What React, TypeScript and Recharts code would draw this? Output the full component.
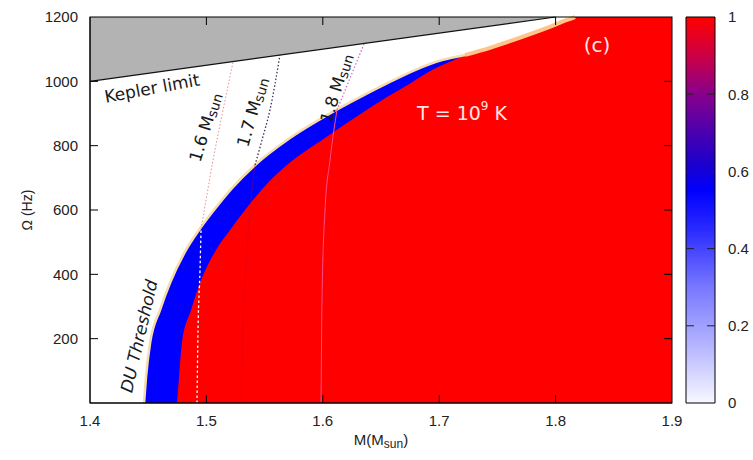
import React from 'react';
import { ComposedChart, Area, Line, XAxis, YAxis, ReferenceDot, ReferenceArea } from 'recharts';

// ---- axes ----
const massTicks = [1.4, 1.5, 1.6, 1.7, 1.8, 1.9];
const omegaTicks = [200, 400, 600, 800, 1000, 1200];
const colorTicks = [0, 0.2, 0.4, 0.6, 0.8, 1];
const massDomain = [1.4, 1.9];
const omegaDomain = [0, 1200];

// ---- Kepler limit ----
const keplerM = [1.4, 1.8];
const keplerOmega = [1000, 1200];

// ---- DU threshold (left edge of blue band) ----
const duM = [1.4464, 1.4481, 1.4516, 1.4601, 1.4687, 1.4825, 1.4936, 1.5065, 1.522, 1.5418, 1.5718, 1.6036, 1.632, 1.656, 1.6792, 1.7024, 1.7222];
const duOmega = [0, 81, 187, 289, 373, 476, 538, 600, 668, 740, 824, 895, 951, 995, 1035, 1066, 1082];

// ---- left edge of red region ----
const redM = [1.4747, 1.4765, 1.479, 1.4868, 1.4945, 1.5083, 1.5203, 1.5332, 1.5486, 1.5692, 1.6019, 1.6311, 1.6552, 1.6758, 1.6938, 1.7127, 1.7222];
const redOmega = [0, 81, 187, 289, 373, 476, 538, 600, 668, 740, 824, 895, 951, 995, 1035, 1066, 1082];

// ---- shared upper edge (blue band closed) ----
const edgeM = [1.7436, 1.7634, 1.7926, 1.8098, 1.8167, 1.9];
const edgeOmega = [1104, 1128, 1166, 1191, 1200, 1200];

// ---- constant-mass sequences ----
const m16UpperM = [1.4954, 1.4997, 1.5057, 1.5134, 1.5229];
const m16UpperOmega = [541, 631, 755, 895, 1060];
const m16LowerM = [1.4919, 1.4928, 1.4945, 1.4954];
const m16LowerOmega = [0, 227, 413, 541];

const m17UpperM = [1.5418, 1.5478, 1.5546, 1.5632];
const m17UpperOmega = [740, 818, 911, 1082];
const m17LowerM = [1.5297, 1.5314, 1.5349, 1.5383, 1.5418];
const m17LowerOmega = [0, 227, 476, 631, 740];

const m18UpperM = [1.6122, 1.6234, 1.6354];
const m18UpperOmega = [911, 1010, 1116];
const m18LowerM = [1.5985, 1.5993, 1.6019, 1.6062, 1.6122];
const m18LowerOmega = [0, 320, 600, 755, 911];

// ---- layout ----
const W = 753;
const H = 460;
const PLOT = { left: 90, top: 17, right: 672, bottom: 403 };
const CBAR = { left: 686, right: 715 };
const TICK_PX = 8;

const pts = (ms: number[], ws: number[]) => ms.map((m, i) => ({ m, w: ws[i] }));

const blueData = pts([...duM, ...edgeM], [...duOmega, ...edgeOmega]);
const redData = pts([...redM, ...edgeM], [...redOmega, ...edgeOmega]);
const duEdgeData = pts(duM, duOmega);
const topFringeData = pts([duM[duM.length - 1], ...edgeM.slice(0, 5)], [duOmega[duOmega.length - 1], ...edgeOmega.slice(0, 5)]);
const keplerData = pts(keplerM, keplerOmega);
const grayData = keplerM.map((m, i) => ({ m, band: [keplerOmega[i], omegaDomain[1]] }));
const m16Upper = pts(m16UpperM, m16UpperOmega);
const m16Lower = pts(m16LowerM, m16LowerOmega);
const m17Upper = pts(m17UpperM, m17UpperOmega);
const m17Lower = pts(m17LowerM, m17LowerOmega);
const m18Upper = pts(m18UpperM, m18UpperOmega);
const m18Lower = pts(m18LowerM, m18LowerOmega);

const [m0, m1] = massDomain;
const [w0, w1] = omegaDomain;
const innerMass = massTicks.slice(1, -1);
const innerOmega = omegaTicks.slice(0, -1);
const innerColor = colorTicks.slice(1, -1);

// frame + inward (mirror) ticks, anchored at the plot's origin point given by the chart
const FrameTicks = (props: any) => {
  const vb = props.viewBox || {};
  const ox = (vb.x || 0) + (vb.width || 0) / 2;
  const oy = (vb.y || 0) + (vb.height || 0) / 2;
  const pw = PLOT.right - PLOT.left;
  const ph = PLOT.bottom - PLOT.top;
  const X = (m: number) => ox + ((m - m0) / (m1 - m0)) * pw;
  const Y = (w: number) => oy - ((w - w0) / (w1 - w0)) * ph;
  const cbL = ox + (CBAR.left - PLOT.left);
  const cbR = ox + (CBAR.right - PLOT.left);
  const C = (c: number) => oy - c * ph;
  return (
    <g>
      <rect x={ox} y={oy - ph} width={pw} height={ph} fill="none" stroke="#000" strokeWidth={1} />
      {innerMass.map((m) => (
        <g key={'m' + m}>
          <line x1={X(m)} x2={X(m)} y1={oy} y2={oy - TICK_PX} stroke="#000" />
          <line x1={X(m)} x2={X(m)} y1={oy - ph} y2={oy - ph + TICK_PX} stroke="#000" />
        </g>
      ))}
      {innerOmega.map((w) => (
        <g key={'w' + w}>
          <line x1={ox} x2={ox + TICK_PX} y1={Y(w)} y2={Y(w)} stroke="#000" />
          <line x1={ox + pw} x2={ox + pw - TICK_PX} y1={Y(w)} y2={Y(w)} stroke="#000" />
        </g>
      ))}
      {innerColor.map((c) => (
        <g key={'c' + c}>
          <line x1={cbL} x2={cbL + TICK_PX} y1={C(c)} y2={C(c)} stroke="#222" />
          <line x1={cbR} x2={cbR - TICK_PX} y1={C(c)} y2={C(c)} stroke="#222" />
        </g>
      ))}
    </g>
  );
};

const tickFont = { fontFamily: 'Liberation Sans, Arial, sans-serif', fontSize: 15, fill: '#222' };
const annFont = 'DejaVu Sans, sans-serif';

const rotLabel = (content: React.ReactNode, angle: number, style: any) => (props: any) => {
  const vb = props.viewBox || {};
  const cx = (vb.x || 0) + (vb.width || 0) / 2;
  const cy = (vb.y || 0) + (vb.height || 0) / 2;
  return (
    <text x={cx} y={cy} transform={`rotate(${angle} ${cx} ${cy})`} textAnchor="middle" dominantBaseline="central" {...style}>
      {content}
    </text>
  );
};

const msun = (n: string) => (
  <>
    {n} M<tspan fontSize="0.8em" dy={3}>sun</tspan>
  </>
);

const annStyle = { fontFamily: annFont, fontSize: 17, fill: '#1a1a1a' };

const XTitle = (props: any) => {
  const vb = props.viewBox || {};
  const cx = vb.x + vb.width / 2;
  return (
    <text x={cx} y={vb.y + 42} textAnchor="middle" fontFamily="Liberation Sans, Arial, sans-serif" fontSize={15} fill="#222">
      M(M<tspan fontSize={12} dy={3}>sun</tspan><tspan dy={-3}>)</tspan>
    </text>
  );
};

const YTitle = (props: any) => {
  const vb = props.viewBox || {};
  const x = 27;
  const y = vb.y + vb.height / 2;
  return (
    <text x={x} y={y} transform={`rotate(-90 ${x} ${y})`} textAnchor="middle" dominantBaseline="central" fontFamily="Liberation Sans, Arial, sans-serif" fontSize={14} fill="#222">
      Ω (Hz)
    </text>
  );
};

const line = { stroke: '#000' };
const fmtMass = (v: number) => v.toFixed(1);

const labelKepler = rotLabel('Kepler limit', -10.5, annStyle);
const label16 = rotLabel(msun('1.6'), -73, annStyle);
const label17 = rotLabel(msun('1.7'), -74, annStyle);
const label18 = rotLabel(msun('1.8'), -73, annStyle);
const labelDU = rotLabel('DU Threshold', -77, { ...annStyle, fontStyle: 'italic' });
const labelT = rotLabel(<>T = 10<tspan fontSize={12} dy={-7}>9</tspan><tspan dy={7}> K</tspan></>, 0, { fontFamily: annFont, fontSize: 19, fill: '#ffe6e6' });
const labelC = rotLabel('(c)', 0, { fontFamily: annFont, fontSize: 20, fill: '#ffe6e6' });

export default function App() {
  return (
    <div style={{ position: 'absolute', left: 0, top: 0, width: W, height: H, background: '#fff' }}>
      <div style={{ position: 'absolute', left: 0, top: 0 }}>
        <ComposedChart width={W} height={H} margin={{ top: PLOT.top, right: W - CBAR.right - 38, bottom: H - PLOT.bottom, left: CBAR.left }}>
          <defs>
            <linearGradient id="cbar" x1="0" y1="1" x2="0" y2="0">
              <stop offset="0" stopColor="#f8f8ff" />
              <stop offset="0.15" stopColor="#b4b4ff" />
              <stop offset="0.3" stopColor="#7878ff" />
              <stop offset="0.45" stopColor="#2a2aff" />
              <stop offset="0.55" stopColor="#0000ff" />
              <stop offset="0.62" stopColor="#1c00cc" />
              <stop offset="0.7" stopColor="#4a00b0" />
              <stop offset="0.8" stopColor="#88008c" />
              <stop offset="0.9" stopColor="#cc0044" />
              <stop offset="1" stopColor="#ff0000" />
            </linearGradient>
          </defs>
          <XAxis type="number" dataKey="x" domain={[0, 1]} allowDataOverflow hide />
          <YAxis yAxisId="r" orientation="right" type="number" domain={[0, 1]} ticks={colorTicks} interval={0} width={38} allowDataOverflow
            tickSize={0} tickMargin={13} tick={tickFont} axisLine={false} tickLine={false} />
          <ReferenceArea yAxisId="r" x1={0} x2={1} y1={0} y2={1} fill="url(#cbar)" fillOpacity={1} stroke="#000" strokeWidth={1} ifOverflow="visible" />
        </ComposedChart>
      </div>

      <div style={{ position: 'absolute', left: 0, top: 0 }}>
        <ComposedChart width={W} height={H} margin={{ top: PLOT.top, right: W - PLOT.right, bottom: H - PLOT.bottom - 30, left: PLOT.left - 50 }}>
          <Line data={duEdgeData} dataKey="w" type="monotone" stroke="#f6dcaa" strokeWidth={2.6} dot={false} isAnimationActive={false} />
          <Area data={blueData} dataKey="w" type="monotone" fill="#0000ff" fillOpacity={1} stroke="none" isAnimationActive={false} />
          <Line data={topFringeData} dataKey="w" type="monotone" stroke="#ffc48a" strokeWidth={4} dot={false} isAnimationActive={false} />
          <Area data={redData} dataKey="w" type="monotone" fill="#ff0000" fillOpacity={1} stroke="none" isAnimationActive={false} />
          <Area data={grayData} dataKey="band" type="linear" fill="#b3b3b3" fillOpacity={1} stroke="none" isAnimationActive={false} />
          <Line data={keplerData} dataKey="w" type="linear" stroke="#111" strokeWidth={1.2} dot={false} isAnimationActive={false} />

          <Line data={m16Upper} dataKey="w" type="monotone" stroke="#f08a8a" strokeWidth={1} strokeDasharray="1.5 2" dot={false} isAnimationActive={false} />
          <Line data={m16Lower} dataKey="w" type="monotone" stroke="#ffffff" strokeWidth={1.3} strokeDasharray="2.5 2.5" dot={false} isAnimationActive={false} />
          <Line data={m17Upper} dataKey="w" type="monotone" stroke="#4a2a5a" strokeWidth={1.3} strokeDasharray="1.5 2" dot={false} isAnimationActive={false} />
          <Line data={m17Lower} dataKey="w" type="monotone" stroke="#c8001c" strokeOpacity={0.35} strokeWidth={1} dot={false} isAnimationActive={false} />
          <Line data={m18Upper} dataKey="w" type="monotone" stroke="#cc66cc" strokeWidth={1.2} strokeDasharray="1.5 2" dot={false} isAnimationActive={false} />
          <Line data={m18Lower} dataKey="w" type="monotone" stroke="#ff4d8a" strokeWidth={1} dot={false} isAnimationActive={false} />

          <ReferenceDot x={1.4533} y={979} r={0} fill="none" stroke="none" label={labelKepler} />
          <ReferenceDot x={1.4988} y={858} r={0} fill="none" stroke="none" label={label16} />
          <ReferenceDot x={1.5392} y={905} r={0} fill="none" stroke="none" label={label17} />
          <ReferenceDot x={1.6113} y={979} r={0} fill="none" stroke="none" label={label18} />
          <ReferenceDot x={1.4421} y={208} r={0} fill="none" stroke="none" label={labelDU} />
          <ReferenceDot x={1.7196} y={901} r={0} fill="none" stroke="none" label={labelT} />
          <ReferenceDot x={1.8356} y={1113} r={0} fill="none" stroke="none" label={labelC} />
          <ReferenceDot x={m0} y={w0} r={0} fill="none" stroke="none" ifOverflow="visible" label={FrameTicks} />

          <XAxis type="number" dataKey="m" domain={massDomain} ticks={massTicks} interval={0} height={30}
            tickFormatter={fmtMass} tickSize={0} tickMargin={12} tick={tickFont}
            axisLine={line} tickLine={false} label={XTitle} />
          <YAxis type="number" domain={omegaDomain} ticks={omegaTicks} interval={0} width={50}
            tickSize={0} tickMargin={12} tick={tickFont} axisLine={line} tickLine={false} label={YTitle} />
        </ComposedChart>
      </div>
    </div>
  );
}
